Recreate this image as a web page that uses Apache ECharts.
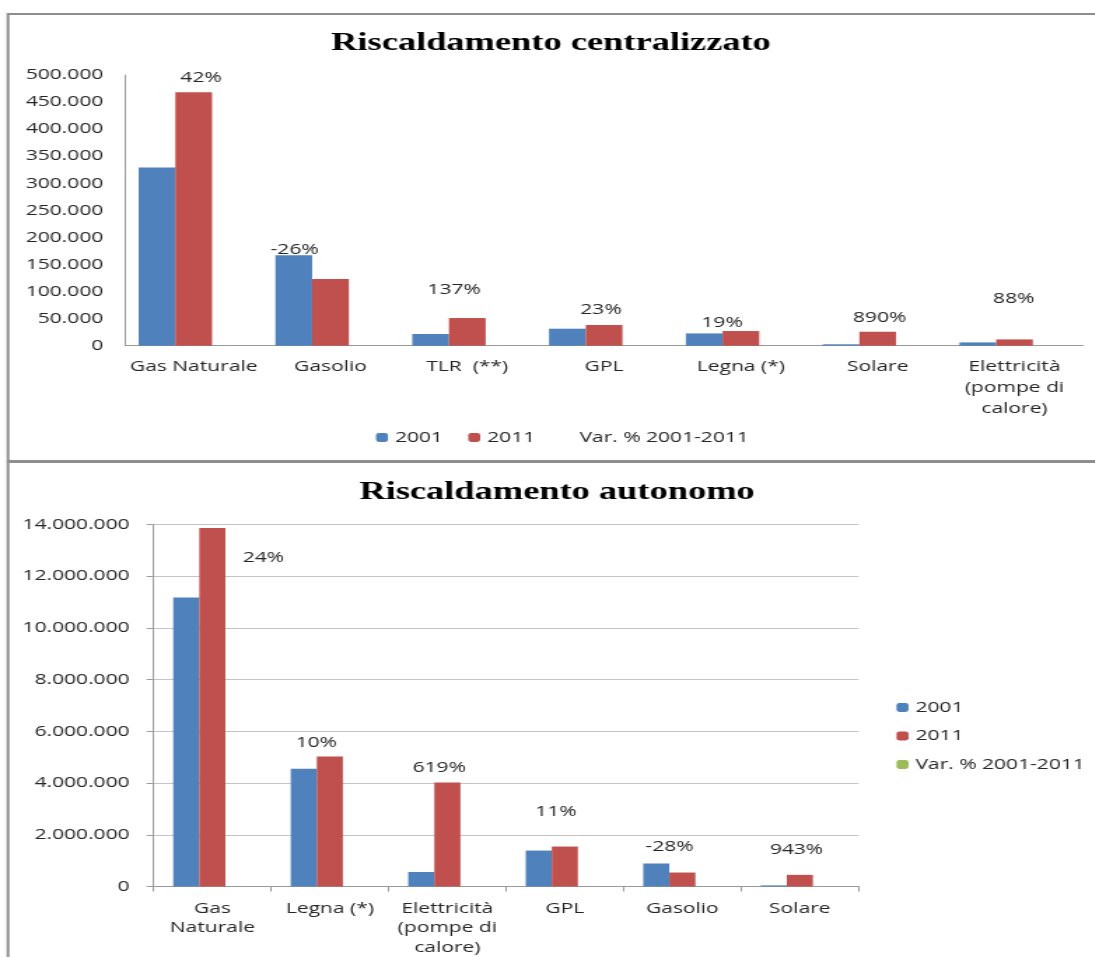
<!DOCTYPE html>
<html>
<head>
<meta charset="utf-8">
<script src="https://cdn.jsdelivr.net/npm/echarts@6/dist/echarts.min.js"></script>
<style>
  html, body { margin: 0; padding: 0; background: #fff; overflow: hidden; }
  /* the figure is drawn narrow and widened horizontally, like the original sheet */
  #chart { position: absolute; left: 0; top: 0; width: 782px; height: 957px;
           transform: scaleX(1.4); transform-origin: 0 0; }
</style>
</head>
<body>
<div id="chart"></div>
<script>
// ---- data: impianti di riscaldamento, censimenti 2001 e 2011 ----
const centralCategories = ['Gas Naturale', 'Gasolio', 'TLR  (**)', 'GPL', 'Legna (*)', 'Solare', 'Elettricità\n(pompe di\ncalore)'];
const central2001 = [329000, 167000, 21600, 31400, 22700, 2600, 6100];
const central2011 = [468000, 123000, 51100, 38200, 27100, 25800, 11600];
const centralVar  = [0.42, -0.26, 1.37, 0.23, 0.19, 8.90, 0.88];

const autonomoCategories = ['Gas\nNaturale', 'Legna (*)', 'Elettricità\n(pompe di\ncalore)', 'GPL', 'Gasolio', 'Solare'];
const autonomo2001 = [11180000, 4550000, 560000, 1390000, 890000, 43000];
const autonomo2011 = [13860000, 5030000, 4020000, 1545000, 540000, 450000];
const autonomoVar  = [0.24, 0.10, 6.19, 0.11, -0.28, 9.43];

const seriesNames = ['2001', '2011', 'Var. % 2001-2011'];
const centralAxis  = { min: 0, max: 500000, interval: 50000 };
const autonomoAxis = { min: 0, max: 14000000, interval: 2000000 };

// ---- layout (page pixels; horizontal values are divided by the stretch) ----
const X_SCALE = 1.4;
const px = x => x / X_SCALE;
// nudges of the percentage labels from their own (flat) bar, in page pixels
const centralLabelOffsets  = [[-29.4, -267.7], [-72.6, -96.4], [-49.8, -56.4], [-39.8, -35.7], [-55.5, -23.4], [-34.8, -28.4], [-37.4, -47.4]];
const autonomoLabelOffsets = [[25, -328.4], [-39.6, -143.4], [-34.2, -118.4], [-35, -75], [-38.9, -40], [-29.4, -36.7]];

const BLUE = '#4f81bd', RED = '#c0504d', GREEN = '#9bbb59';
const TEXT = '#262626', AXIS = '#9a9a9a', GRID = '#c4c4c4', FRAME = '#8e8e8e';
const FONT = 'Open Sans';

const thousands = v => String(v).replace(/\B(?=(\d{3})+(?!\d))/g, '.');
const pct = p => Math.round(p.value * 100) + '%';
const txt = { fontFamily: FONT, fontSize: 15, color: TEXT };

function varData(values, offsets) {
  return values.map((v, i) => ({
    value: v,
    label: { offset: [offsets[i][0] / X_SCALE, offsets[i][1]] }
  }));
}

function barSeries(idx, gap) {
  return { type: 'bar', xAxisIndex: idx, yAxisIndex: idx, barGap: '0%', barCategoryGap: gap };
}

const chart = echarts.init(document.getElementById('chart'), null, { renderer: 'canvas' });

chart.setOption({
  animation: false,
  backgroundColor: '#fff',
  graphic: [
    { type: 'rect', silent: true, shape: { x: px(8), y: 14, width: 900, height: 447 },
      style: { fill: 'none', stroke: FRAME, lineWidth: 2 } },
    { type: 'rect', silent: true, shape: { x: px(8), y: 462, width: 900, height: 600 },
      style: { fill: 'none', stroke: FRAME, lineWidth: 2 } }
  ],
  title: [
    { text: 'Riscaldamento centralizzato', left: px(551), top: 30, textAlign: 'center', padding: 0,
      textStyle: { fontFamily: 'Liberation Serif', fontWeight: 'bold', fontSize: 26, color: '#000' } },
    { text: 'Riscaldamento autonomo', left: px(557), top: 479, textAlign: 'center', padding: 0,
      textStyle: { fontFamily: 'Liberation Serif', fontWeight: 'bold', fontSize: 26, color: '#000' } }
  ],
  legend: [
    { orient: 'horizontal', left: px(376), top: 430, padding: 0, selectedMode: false,
      itemWidth: px(12), itemHeight: 9, itemGap: 18, textStyle: txt,
      data: [
        { name: seriesNames[0], itemStyle: { color: BLUE } },
        { name: seriesNames[1], itemStyle: { color: RED } },
        { name: seriesNames[2], itemStyle: { color: 'rgba(0,0,0,0)' } }
      ] },
    { orient: 'vertical', left: px(896.5), top: 700, padding: 0, selectedMode: false,
      itemWidth: px(12), itemHeight: 9, itemGap: 13.5, textStyle: txt,
      data: [
        { name: seriesNames[0], itemStyle: { color: BLUE } },
        { name: seriesNames[1], itemStyle: { color: RED } },
        { name: seriesNames[2], itemStyle: { color: GREEN } }
      ] }
  ],
  grid: [
    { left: px(125.3), top: 75, width: px(957.6), height: 270.7 },
    { left: px(153.6), top: 524.5, width: px(705), height: 362.2 }
  ],
  xAxis: [
    { type: 'category', gridIndex: 0, data: centralCategories,
      axisLine: { show: true, lineStyle: { color: AXIS, width: 1 } },
      axisTick: { show: false },
      axisLabel: Object.assign({ interval: 0, margin: 11, lineHeight: 21, align: 'center' }, txt),
      splitLine: { show: false } },
    { type: 'category', gridIndex: 1, data: autonomoCategories,
      axisLine: { show: true, lineStyle: { color: AXIS, width: 1 } },
      axisTick: { show: true, length: 5, lineStyle: { color: AXIS } },
      axisLabel: Object.assign({ interval: 0, margin: 12, lineHeight: 19.5, align: 'center' }, txt),
      splitLine: { show: false } }
  ],
  yAxis: [
    { type: 'value', gridIndex: 0, min: centralAxis.min, max: centralAxis.max, interval: centralAxis.interval,
      axisLine: { show: true, lineStyle: { color: AXIS, width: 1 } },
      axisTick: { show: false },
      splitLine: { show: false },
      axisLabel: Object.assign({ margin: px(22), formatter: thousands }, txt) },
    { type: 'value', gridIndex: 1, min: autonomoAxis.min, max: autonomoAxis.max, interval: autonomoAxis.interval,
      axisLine: { show: true, lineStyle: { color: AXIS, width: 1 } },
      axisTick: { show: true, length: px(7), lineStyle: { color: AXIS } },
      splitLine: { show: true, lineStyle: { color: GRID, width: 1 } },
      axisLabel: Object.assign({ margin: px(24), formatter: thousands }, txt) }
  ],
  series: [
    Object.assign(barSeries(0, '19.5%'), { name: seriesNames[0], data: central2001, itemStyle: { color: BLUE } }),
    Object.assign(barSeries(0, '19.5%'), { name: seriesNames[1], data: central2011, itemStyle: { color: RED } }),
    Object.assign(barSeries(0, '19.5%'), {
      name: seriesNames[2], data: varData(centralVar, centralLabelOffsets),
      itemStyle: { color: 'rgba(0,0,0,0)' },
      label: Object.assign({ show: true, position: 'inside', formatter: pct }, txt)
    }),
    Object.assign(barSeries(1, '33.4%'), { name: seriesNames[0], data: autonomo2001, itemStyle: { color: BLUE } }),
    Object.assign(barSeries(1, '33.4%'), { name: seriesNames[1], data: autonomo2011, itemStyle: { color: RED } }),
    Object.assign(barSeries(1, '33.4%'), {
      name: seriesNames[2], data: varData(autonomoVar, autonomoLabelOffsets),
      itemStyle: { color: GREEN },
      label: Object.assign({ show: true, position: 'inside', formatter: pct }, txt)
    })
  ]
});
</script>
</body>
</html>
